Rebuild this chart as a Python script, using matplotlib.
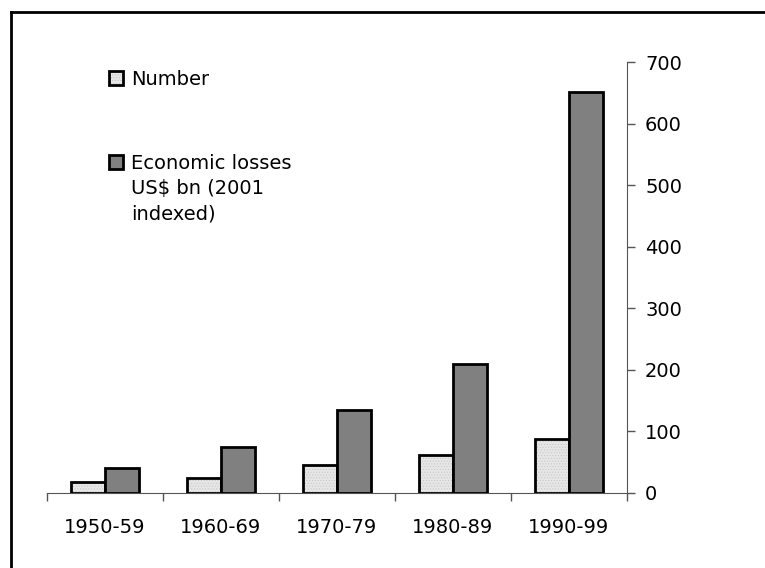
import numpy as np
import matplotlib
matplotlib.use("Agg")
import matplotlib.pyplot as plt
from matplotlib.patches import Rectangle
from matplotlib.lines import Line2D

plt.rcParams['font.family'] = ['DejaVu Sans']
plt.rcParams['hatch.linewidth'] = 0.4

decades = ['1950-59', '1960-69', '1970-79', '1980-89', '1990-99']
number = [18, 24, 45, 61, 88]
losses = [40, 74, 134, 210, 651]
yticks = [0, 100, 200, 300, 400, 500, 600, 700]

fs = 14
light = '#e6e6e6'
dots = '#c4c4c4'
dark = '#808080'

fig = plt.figure(figsize=(7.65, 5.68), dpi=100)
ax = fig.add_axes([47/765, 1 - 493/568, 580/765, 431/568])

x = np.arange(len(decades))
w = 0.29
# dotted light bars: hatch first, then black outline on top
ax.bar(x - w/2, number, w, color=light, edgecolor=dots, hatch='......', linewidth=0, zorder=2)
ax.bar(x - w/2, number, w, fill=False, edgecolor='black', linewidth=2, zorder=3)
ax.bar(x + w/2, losses, w, color=dark, edgecolor='black', linewidth=2, zorder=3)

ax.set_xlim(-0.5, len(decades) - 0.5)
ax.set_ylim(0, 700)

ax.yaxis.tick_right()
ax.set_yticks(yticks)
ax.set_yticklabels([str(t) for t in yticks], fontsize=fs)
ax.tick_params(axis='y', direction='out', length=6, width=1, color='#555555', pad=7)

ax.set_xticks(np.arange(len(decades) + 1) - 0.5)
ax.set_xticklabels([])
ax.set_xticks(x, minor=True)
ax.set_xticklabels(decades, minor=True, fontsize=fs)
ax.tick_params(axis='x', which='major', direction='out', length=6, width=1, color='#555555')
ax.tick_params(axis='x', which='minor', length=0, pad=18)

for s in ['top', 'left']:
    ax.spines[s].set_visible(False)
ax.spines['right'].set_color('#555555')
ax.spines['bottom'].set_color('#555555')

# legend drawn by hand so the handle sits on the first text line
def key(y, face, hatch=None):
    r = Rectangle((109/765, 1 - y/568), 14/765, 14/568, transform=fig.transFigure,
                  facecolor=face, edgecolor=dots if hatch else 'black', linewidth=0, hatch=hatch)
    fig.patches.append(r)
    fig.patches.append(Rectangle((109/765, 1 - y/568), 14/765, 14/568, transform=fig.transFigure,
                                 fill=False, edgecolor='black', linewidth=2))

key(85, light, '......')
fig.text(131/765, 1 - 85/568, 'Number', fontsize=fs, va='baseline')
key(169, dark)
fig.text(131/765, 1 - 169/568, 'Economic losses', fontsize=fs, va='baseline')
fig.text(131/765, 1 - 194/568, 'US$ bn (2001', fontsize=fs, va='baseline')
fig.text(131/765, 1 - 219/568, 'indexed)', fontsize=fs, va='baseline')

# outer frame: top and left edges only
fig.add_artist(Line2D([11/765, 1], [1 - 12/568] * 2, color='black', linewidth=2, transform=fig.transFigure))
fig.add_artist(Line2D([11/765] * 2, [0, 1 - 12/568], color='black', linewidth=2, transform=fig.transFigure))

fig.savefig('out.png', dpi=100)
